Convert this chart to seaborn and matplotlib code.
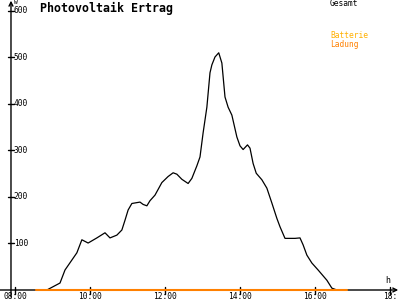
import matplotlib
matplotlib.use("Agg")
import matplotlib.pyplot as plt
import seaborn as sns
import pandas as pd
import numpy as np

# ---- data ----
gesamt_time = ["08:51", "09:12", "09:20", "09:39", "09:47", "09:57", "10:11", "10:24",
               "10:32", "10:43", "10:51", "10:56", "11:01", "11:07", "11:20", "11:25",
               "11:31", "11:36", "11:44", "11:55", "12:05", "12:13", "12:19", "12:27",
               "12:37", "12:43", "12:51", "12:56", "13:01", "13:07", "13:12", "13:15",
               "13:20", "13:26", "13:31", "13:36", "13:41", "13:47", "13:55", "14:00",
               "14:05", "14:12", "14:16", "14:21", "14:26", "14:35", "14:43", "14:51",
               "14:59", "15:04", "15:12", "15:20", "15:28", "15:36", "15:41", "15:47",
               "15:55", "16:05", "16:19", "16:27", "16:35"]
gesamt_value = [0, 15, 43, 80, 108, 101, 112, 123,
                112, 118, 129, 150, 172, 186, 189, 184,
                181, 192, 204, 231, 244, 252, 249, 238,
                229, 240, 267, 286, 338, 393, 467, 484,
                501, 510, 488, 415, 393, 376, 329, 310,
                302, 312, 305, 272, 251, 237, 219, 187,
                154, 136, 111, 111, 111, 112, 97, 75,
                58, 43, 21, 4, 0]
ladung_time = ["08:34", "16:51"]
ladung_value = [0, 0]

x_ticks = [8, 10, 12, 14, 16, 18]
x_tick_labels = ["08:00", "10:00", "12:00", "14:00", "16:00", "18:"]
y_ticks = [100, 200, 300, 400, 500, 600]
y_tick_labels = ["100", "200", "300", "400", "500", "600"]

def to_hours(s):
    h, m = s.split(":")
    return int(h) + int(m) / 60.0

df_g = pd.DataFrame({"t": [to_hours(s) for s in gesamt_time], "v": gesamt_value})
df_l = pd.DataFrame({"t": [to_hours(s) for s in ladung_time], "v": ladung_value})

sns.set_style("white")
plt.rcParams["font.family"] = ["DejaVu Sans Mono", "DejaVu Sans"]

fig = plt.figure(figsize=(4, 3), dpi=100)
ax = fig.add_axes([0, 0, 1, 1])

X0, X1 = 7.6, 18.267
Y0, Y1 = -21.5, 623.5
ax.set_xlim(X0, X1)
ax.set_ylim(Y0, Y1)
for s in ax.spines.values():
    s.set_visible(False)
ax.set_xticks([])
ax.set_yticks([])

yaxis_x = 7.893
black = "#000000"
orange = "#FF8000"
fs = 5.7

# axes with arrows
ax.annotate("", xy=(yaxis_x, 622), xytext=(yaxis_x, -15),
            arrowprops=dict(arrowstyle="->", lw=1, color=black, shrinkA=0, shrinkB=0,
                            mutation_scale=7), zorder=1)
ax.annotate("", xy=(18.22, 0), xytext=(X0, 0),
            arrowprops=dict(arrowstyle="->", lw=1, color=black, shrinkA=0, shrinkB=0,
                            mutation_scale=7), zorder=1)

# ticks
dx = 3 / 37.5
dy = 3.5 * 2.15
for v, lab in zip(y_ticks, y_tick_labels):
    ax.plot([yaxis_x - dx, yaxis_x + dx], [v, v], color=black, lw=1)
    ax.text(yaxis_x + 0.07, v, lab, fontsize=fs, ha="left", va="center", color=black)
for t, lab in zip(x_ticks, x_tick_labels):
    ax.plot([t, t], [-dy, dy], color=black, lw=1)
    ax.text(t, -15, lab, fontsize=fs, ha="center", va="center", color=black)

# series
sns.lineplot(data=df_g, x="t", y="v", ax=ax, color=black, lw=0.9, legend=False, zorder=4)
sns.lineplot(data=df_l, x="t", y="v", ax=ax, color=orange, lw=1.5, legend=False, zorder=5)
ax.set_xlabel("")
ax.set_ylabel("")

# texts
fig.text(14 / 400, 1 - 0.5 / 300, "W", fontsize=4.5, ha="left", va="top", color=black)
ax.text(17.93, 20, "h", fontsize=fs + 0.3, ha="center", va="center", color=black)
fig.text(40 / 400, 1 - 8 / 300, "Photovoltaik Ertrag", fontsize=8.4, fontweight="bold",
         ha="left", va="center", color=black)
fig.text(330 / 400, 1 - 4 / 300, "Gesamt", fontsize=fs, ha="left", va="center", color=black)
fig.text(330 / 400, 1 - 36 / 300, "Batterie", fontsize=fs, ha="left", va="center", color="#FFB000")
fig.text(330 / 400, 1 - 44 / 300, "Ladung", fontsize=fs, ha="left", va="center", color="#FF8000")

fig.savefig("out.png", dpi=100)
